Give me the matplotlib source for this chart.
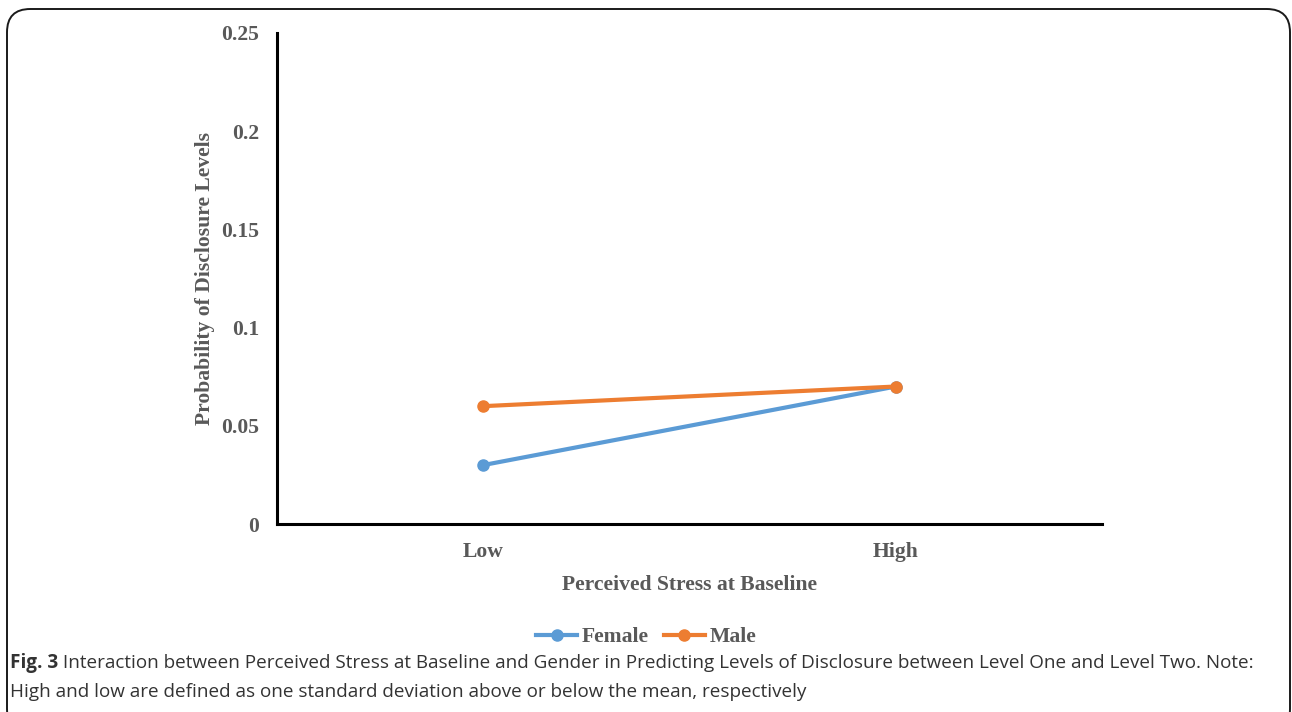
import matplotlib
matplotlib.use("Agg")
import matplotlib.pyplot as plt
from matplotlib.patches import FancyBboxPatch
from matplotlib.lines import Line2D

categories = ["Low", "High"]
female = [0.03, 0.07]
male = [0.06, 0.07]
yticks = [0, 0.05, 0.1, 0.15, 0.2, 0.25]
ytick_labels = ["0", "0.05", "0.1", "0.15", "0.2", "0.25"]
series_names = ["Female", "Male"]
caption_bold = "Fig. 3"
caption_line1 = " Interaction between Perceived Stress at Baseline and Gender in Predicting Levels of Disclosure between Level One and Level Two. Note:"
caption_line2 = "High and low are defined as one standard deviation above or below the mean, respectively"

W, H = 1292, 712
fig = plt.figure(figsize=(W / 100, H / 100), dpi=100)

# rounded border
border = FancyBboxPatch((7 / W, -20 / H), (1290 - 7) / W, (712 - 9 + 20) / H,
                        boxstyle="round,pad=0,rounding_size=0.018",
                        transform=fig.transFigure, fill=False,
                        edgecolor="#1a1a1a", linewidth=1.4, mutation_aspect=W / H)
fig.patches.append(border)

ax = fig.add_axes([277 / W, 1 - 524 / H, (1102 - 277) / W, (524 - 33) / H])
gray = "#595959"
serif = "Liberation Serif"
blue = "#5B9BD5"
orange = "#ED7D31"
fs = 15.6

x = list(range(len(categories)))
ax.plot(x, female, color=blue, lw=3, marker="o", ms=8, solid_capstyle="round", zorder=3)
ax.plot(x, male, color=orange, lw=3, marker="o", ms=8, solid_capstyle="round", zorder=4)

ax.set_xlim(-0.5, 1.5)
ax.set_ylim(0, 0.25)
ax.set_yticks(yticks)
ax.set_yticklabels(ytick_labels)
ax.set_xticks(x)
ax.set_xticklabels(categories)
for lab in ax.get_yticklabels() + ax.get_xticklabels():
    lab.set_fontfamily(serif)
    lab.set_fontweight("bold")
    lab.set_fontsize(fs)
    lab.set_color(gray)
ax.tick_params(axis="y", length=0, pad=13)
ax.tick_params(axis="x", length=0, pad=13)
for s in ["top", "right"]:
    ax.spines[s].set_visible(False)
for s in ["left", "bottom"]:
    ax.spines[s].set_linewidth(2.2)
    ax.spines[s].set_color("black")

ax.set_ylabel("Probability of Disclosure Levels", fontfamily=serif, fontweight="bold",
              fontsize=fs, color=gray, labelpad=4)
ax.set_xlabel("Perceived Stress at Baseline", fontfamily=serif, fontweight="bold",
              fontsize=fs, color=gray, labelpad=9)

handles = [Line2D([0], [0], color=blue, lw=3, marker="o", ms=8),
           Line2D([0], [0], color=orange, lw=3, marker="o", ms=8)]
leg = fig.legend(handles, series_names, loc="center", bbox_to_anchor=(0.5, 1 - 637 / H),
                 ncol=2, frameon=False, handlelength=1.9, handletextpad=0.2,
                 columnspacing=0.7, prop={"family": serif, "weight": "bold", "size": fs})
for t in leg.get_texts():
    t.set_color(gray)

cap_color = "#333333"
cap_font = "Open Sans"
cfs = 13.55
t1 = fig.text(10 / W, 1 - 663 / H, caption_bold, fontfamily=cap_font, fontweight="bold",
              fontsize=cfs, color=cap_color, va="center", ha="left")
fig.canvas.draw()
r = fig.canvas.get_renderer()
bb = t1.get_window_extent(r)
fig.text(bb.x1 / W, 1 - 663 / H, caption_line1, fontfamily=cap_font,
         fontsize=cfs, color=cap_color, va="center", ha="left")
fig.text(10 / W, 1 - 692 / H, caption_line2, fontfamily=cap_font,
         fontsize=cfs, color=cap_color, va="center", ha="left")

fig.savefig("out.png", dpi=100)
